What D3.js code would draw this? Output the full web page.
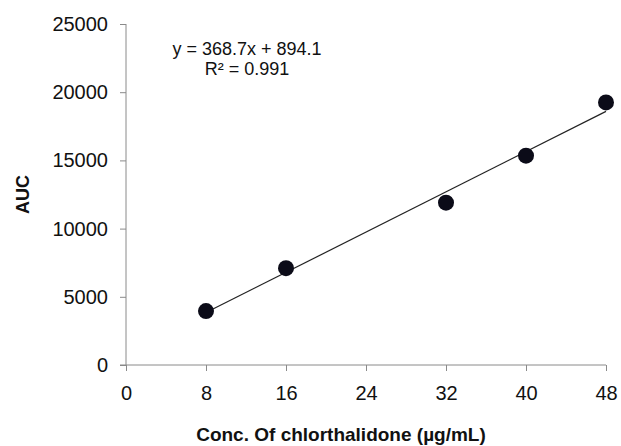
<!DOCTYPE html>
<html>
<head>
<meta charset="utf-8">
<script src="https://cdn.jsdelivr.net/npm/d3@7"></script>
<style>
  body { margin: 0; background: #fff; }
  svg { font-family: "Liberation Sans", Arial, sans-serif; }
</style>
</head>
<body>
<svg width="621" height="446"></svg>
<script>
// concentration (µg/mL) and measured AUC
const CONC = [8, 16, 32, 40, 48];
const AUC = [3950, 7100, 11900, 15350, 19250];
const X_TICKS = [0, 8, 16, 24, 32, 40, 48];
const Y_TICKS = [0, 5000, 10000, 15000, 20000, 25000];
const FIT = { slope: 368.7, intercept: 894.1 };
const FIT_TEXT = ["y = 368.7x + 894.1", "R² = 0.991"];

const svg = d3.select('svg');

const x = d3.scaleLinear().domain([0, 48]).range([126, 606]);
const y = d3.scaleLinear().domain([0, 25000]).range([365, 24]);

// y axis
const yAxis = svg.append('g')
    .attr('transform', 'translate(126,0)')
    .call(d3.axisLeft(y).tickValues(Y_TICKS).tickFormat(d3.format('d')).tickSize(6).tickPadding(12));
yAxis.select('.domain').attr('stroke', '#8a8a8a').attr('d', `M0,${y(25000)}V${y(0)}`);
yAxis.selectAll('.tick line').attr('stroke', '#8a8a8a');
yAxis.selectAll('.tick text').attr('font-size', 20).attr('fill', '#111').attr('font-family', 'Liberation Sans, Arial, sans-serif');

// x axis
const xAxis = svg.append('g')
    .attr('transform', `translate(0,${y(0)})`)
    .call(d3.axisBottom(x).tickValues(X_TICKS).tickFormat(d3.format('d')).tickSize(6).tickPadding(15));
xAxis.select('.domain').attr('stroke', '#8a8a8a').attr('d', `M${x(0) - 6},0H${x(48)}`);
xAxis.selectAll('.tick line').attr('stroke', '#8a8a8a');
xAxis.selectAll('.tick text').attr('font-size', 20).attr('fill', '#111').attr('font-family', 'Liberation Sans, Arial, sans-serif');

// trend line over data range
const xMin = d3.min(CONC), xMax = d3.max(CONC);
svg.append('line')
    .attr('x1', x(xMin)).attr('y1', y(FIT.slope * xMin + FIT.intercept))
    .attr('x2', x(xMax)).attr('y2', y(FIT.slope * xMax + FIT.intercept))
    .attr('stroke', '#222').attr('stroke-width', 1.2);

// points
svg.selectAll('.pt')
    .data(CONC)
    .enter()
    .append('circle')
    .classed('pt', true)
    .attr('cx', d => x(d))
    .attr('cy', (d, i) => y(AUC[i]))
    .attr('r', 8)
    .attr('fill', '#0b0b18');

// equation
svg.selectAll('.eq')
    .data(FIT_TEXT)
    .enter()
    .append('text')
    .classed('eq', true)
    .attr('x', 247)
    .attr('y', (d, i) => 55 + i * 20)
    .attr('text-anchor', 'middle')
    .attr('font-size', 18)
    .attr('fill', '#111')
    .text(d => d);

// axis titles
svg.append('text')
    .attr('transform', `translate(29,${(y(0) + y(25000)) / 2}) rotate(-90)`)
    .attr('text-anchor', 'middle')
    .attr('font-size', 18)
    .attr('font-weight', 'bold')
    .attr('fill', '#111')
    .text('AUC');

svg.append('text')
    .attr('x', 341)
    .attr('y', 441)
    .attr('text-anchor', 'middle')
    .attr('font-size', 19)
    .attr('font-weight', 'bold')
    .attr('fill', '#111')
    .text('Conc. Of chlorthalidone (µg/mL)');
</script>
</body>
</html>
